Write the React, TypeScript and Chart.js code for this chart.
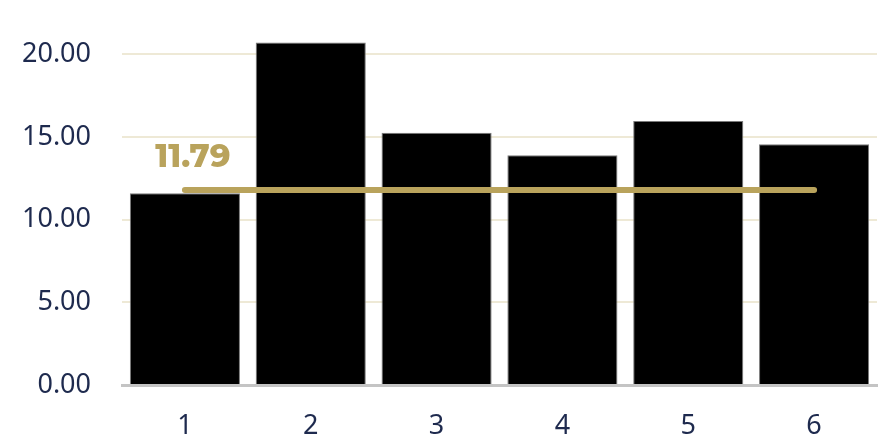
import React, { useEffect, useRef } from "react";
import { Chart, registerables } from "chart.js";

Chart.register(...registerables);

// Category labels and bar values
const categories: string[] = ["1", "2", "3", "4", "5", "6"];
const barValues: number[] = [11.59, 20.7, 15.24, 13.89, 15.96, 14.55];

// Reference level drawn as a horizontal line across the categories
const referenceValue = 11.79;
const referenceLabel = "11.79";

// Y-axis range and step
const yMin = 0;
const yMax = 22;
const yStep = 5;

const TICK_COLOR = "#1E2A4E";
const GOLD = "#B9A35C";
const GRID = "#EEE9D6";

const referenceLabelPlugin = {
  id: "referenceLabel",
  afterDatasetsDraw(chart: Chart) {
    const meta = chart.getDatasetMeta(1);
    if (!meta || !meta.data.length) return;
    const first = meta.data[0] as any;
    const ctx = chart.ctx;
    ctx.save();
    ctx.fillStyle = GOLD;
    ctx.font = "800 32px Montserrat, 'Open Sans', sans-serif";
    ctx.textAlign = "center";
    ctx.textBaseline = "alphabetic";
    ctx.fillText(referenceLabel, first.x + 8, first.y - 23);
    ctx.restore();
  },
};

export default function App() {
  const canvasRef = useRef<HTMLCanvasElement | null>(null);

  useEffect(() => {
    if (!canvasRef.current) return;
    const chart = new Chart(canvasRef.current, {
      type: "bar",
      data: {
        labels: categories,
        datasets: [
          {
            type: "bar",
            data: barValues,
            backgroundColor: "#000000",
            borderColor: "#7A7A7A",
            borderWidth: 1,
            barPercentage: 0.875,
            categoryPercentage: 1,
            order: 2,
          },
          {
            type: "line",
            data: categories.map(() => referenceValue),
            borderColor: GOLD,
            borderWidth: 6,
            borderCapStyle: "round",
            pointRadius: 0,
            fill: false,
            order: 1,
          } as any,
        ],
      },
      options: {
        responsive: false,
        animation: false,
        layout: { padding: { top: 21, right: 1, left: 0, bottom: 0 } },
        plugins: {
          legend: { display: false },
          tooltip: { enabled: false },
        },
        scales: {
          x: {
            grid: { display: false, drawTicks: false },
            border: { display: true, color: "#C4C4C4", width: 3 },
            ticks: {
              color: TICK_COLOR,
              font: { family: "'Noto Sans', sans-serif", size: 27 },
              padding: 25,
            },
            afterFit(scale: any) {
              scale.height = 53;
              scale.paddingLeft = 0;
              scale.paddingRight = 0;
            },
          },
          y: {
            min: yMin,
            max: yMax,
            grid: {
              drawTicks: false,
              lineWidth: 2,
              color: (c: any) => (c.tick && c.tick.value === 0 ? "rgba(0,0,0,0)" : GRID),
            },
            border: { display: false },
            ticks: {
              stepSize: yStep,
              color: TICK_COLOR,
              font: { family: "'Noto Sans', sans-serif", size: 27 },
              padding: 31,
              callback: (v: any) => Number(v).toFixed(2),
            },
            afterBuildTicks(scale: any) {
              scale.ticks = scale.ticks.filter((t: any) => t.value % yStep === 0);
            },
            afterFit(scale: any) {
              scale.width = 122;
              scale.paddingTop = 0;
              scale.paddingBottom = 0;
            },
          },
        },
      },
      plugins: [referenceLabelPlugin],
    });
    return () => chart.destroy();
  }, []);

  return (
    <canvas
      ref={canvasRef}
      width={878}
      height={438}
      style={{ position: "absolute", left: 0, top: 0, display: "block", background: "#ffffff" }}
    />
  );
}
